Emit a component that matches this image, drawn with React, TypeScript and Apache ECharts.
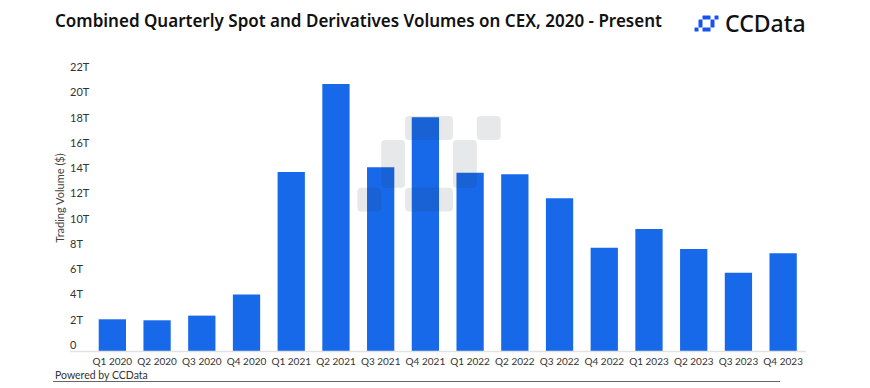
import React, { useEffect, useRef } from "react";
import * as echarts from "echarts";

const categories = [
  "Q1 2020", "Q2 2020", "Q3 2020", "Q4 2020",
  "Q1 2021", "Q2 2021", "Q3 2021", "Q4 2021",
  "Q1 2022", "Q2 2022", "Q3 2022", "Q4 2022",
  "Q1 2023", "Q2 2023", "Q3 2023", "Q4 2023",
];
const volumesT = [
  2.51, 2.43, 2.8, 4.48,
  14.17, 21.13, 14.54, 18.49,
  14.11, 13.98, 12.08, 8.18,
  9.65, 8.07, 6.2, 7.73,
];
const yMin = 0;
const yMax = 22;
const yInterval = 2;

const titleText = "Combined Quarterly Spot and Derivatives Volumes on CEX, 2020 - Present";
const yAxisTitle = "Trading Volume ($)";
const footerText = "Powered by CCData";
const brandText = "CCData";

// logo cells: [col, row, colSpan, rowSpan]
const logoCells: [number, number, number, number][] = [
  [2, 0, 2, 1],
  [5, 0, 1, 1],
  [1, 1, 1, 2],
  [4, 1, 1, 2],
  [2, 3, 2, 1],
  [0, 3, 1, 1],
];

const FONT = "'Noto Sans', Lato, sans-serif";
const SMALL_FONT = "Lato, 'Noto Sans', sans-serif";

function logoRects(x0: number, y0: number, cell: number, radius: number, fill: string, z: number) {
  return logoCells.map(([c, r, cs, rs]) => ({
    type: "rect",
    z,
    silent: true,
    shape: { x: x0 + c * cell, y: y0 + r * cell, width: cs * cell, height: rs * cell, r: radius },
    style: { fill },
  }));
}

export default function App() {
  const ref = useRef<HTMLDivElement>(null);
  useEffect(() => {
    if (!ref.current) return;
    const chart = echarts.init(ref.current, null, { renderer: "svg" });
    chart.setOption({
      animation: false,
      backgroundColor: "#ffffff",
      textStyle: { fontFamily: FONT },
      title: {
        text: titleText,
        left: 55,
        top: 12,
        padding: 0,
        textStyle: { fontSize: 17, fontWeight: 600, color: "#111111", fontFamily: FONT },
      },
      grid: { left: 90, right: 64.5, top: 73, bottom: 37, containLabel: false },
      xAxis: {
        type: "category",
        data: categories,
        axisLine: { show: false },
        axisTick: { show: false },
        axisLabel: { color: "#333333", fontSize: 10, margin: 5, interval: 0, fontFamily: SMALL_FONT },
      },
      yAxis: {
        type: "value",
        min: yMin,
        max: yMax,
        interval: yInterval,
        splitLine: { show: false },
        axisLine: { show: false },
        axisTick: { show: false },
        axisLabel: {
          color: "#333333",
          fontSize: 11,
          align: "left",
          verticalAlign: "bottom",
          margin: 20,
          padding: [0, 0, 1, 0],
          fontFamily: SMALL_FONT,
          formatter: (v: number) => (v === 0 ? "0" : `${v}T`),
        },
      },
      series: [
        {
          type: "bar",
          data: volumesT,
          barCategoryGap: "39%",
          itemStyle: { color: "#1769EA" },
        },
      ],
      graphic: [
        {
          type: "line",
          silent: true,
          z: 5,
          shape: { x1: 70, y1: 351.5, x2: 806, y2: 351.5 },
          style: { stroke: "#e2e2e2", lineWidth: 1.5 },
        },
        {
          type: "text",
          x: 59,
          y: 198,
          rotation: Math.PI / 2,
          style: {
            text: yAxisTitle,
            fontSize: 11,
            fill: "#444444",
            align: "center",
            verticalAlign: "middle",
            fontFamily: SMALL_FONT,
          },
        },
        {
          type: "text",
          x: 55,
          y: 375,
          style: {
            text: footerText,
            fontSize: 10.5,
            fill: "#333333",
            align: "left",
            verticalAlign: "middle",
            fontFamily: SMALL_FONT,
          },
        },
        {
          type: "line",
          silent: true,
          shape: { x1: 53, y1: 381.5, x2: 780, y2: 381.5 },
          style: { stroke: "#666666", lineWidth: 1 },
        },
        ...logoRects(357.3, 116, 23.9, 4, "rgba(40,42,52,0.11)", 100),
        ...logoRects(694.5, 15.5, 4, 0.5, "#1652F0", 10),
        {
          type: "text",
          x: 725,
          y: 23,
          style: {
            text: brandText,
            fontSize: 23,
            fontWeight: 500,
            fill: "#111111",
            align: "left",
            verticalAlign: "middle",
            fontFamily: FONT,
          },
        },
      ],
    });
    return () => chart.dispose();
  }, []);
  return (
    <div
      ref={ref}
      style={{ position: "fixed", left: 0, top: 0, width: 870, height: 388 }}
    />
  );
}
